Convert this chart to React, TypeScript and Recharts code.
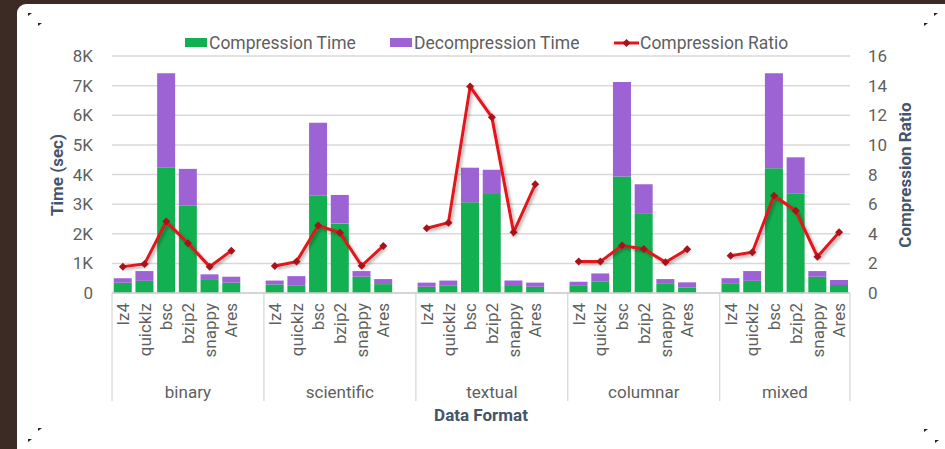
import React from 'react'
import { ComposedChart, Bar, Line, XAxis, YAxis, CartesianGrid, Legend } from 'recharts'

// values
const groups = ['binary', 'scientific', 'textual', 'columnar', 'mixed']
const algorithms = ['lz4', 'quicklz', 'bsc', 'bzip2', 'snappy', 'Ares']

// seconds, one row per data format
const compressionTime = [
  [350, 410, 4230, 2950, 440, 350],
  [290, 260, 3280, 2350, 550, 300],
  [210, 260, 3060, 3340, 240, 210],
  [240, 380, 3930, 2670, 330, 180],
  [330, 410, 4210, 3370, 550, 270],
]
const decompressionTime = [
  [150, 330, 3190, 1240, 190, 200],
  [130, 310, 2470, 960, 190, 170],
  [140, 160, 1170, 820, 180, 140],
  [140, 280, 3190, 1000, 140, 180],
  [170, 330, 3210, 1210, 190, 170],
]
const compressionRatio = [
  [1.78, 1.96, 4.82, 3.36, 1.78, 2.86],
  [1.82, 2.12, 4.55, 4.07, 1.84, 3.18],
  [4.37, 4.75, 13.94, 11.87, 4.1, 7.34],
  [2.12, 2.12, 3.2, 2.97, 2.07, 2.95],
  [2.52, 2.75, 6.57, 5.56, 2.45, 4.1],
]
const timeTicks = [0, 1000, 2000, 3000, 4000, 5000, 6000, 7000, 8000]
const ratioTicks = [0, 2, 4, 6, 8, 10, 12, 14, 16]

// an empty slot closes each group (except the last), like the original sheet
const data: any[] = []
groups.forEach((g, gi) => {
  algorithms.forEach((a, ai) => {
    data.push({
      key: `${g}|${a}`,
      group: g,
      algo: a,
      slot: ai,
      comp: compressionTime[gi][ai],
      decomp: decompressionTime[gi][ai],
      ratio: compressionRatio[gi][ai],
    })
  })
  if (gi < groups.length - 1) {
    data.push({ key: `${g}|gap`, group: g, algo: '', slot: 6, comp: null, decomp: null, ratio: null })
  }
})

const W = 945
const H = 449
const PLOT_LEFT = 112
const PLOT_RIGHT = 850
const BAND = (PLOT_RIGHT - PLOT_LEFT) / data.length

const FONT = 'Roboto, "Liberation Sans", Arial, sans-serif'
const GRAY = '#5f5f5f'
const TITLE = '#44546a'
const GREEN = '#12b050'
const PURPLE = '#9d62d4'
const RED = '#e3141b'
const DARKRED = '#a8131a'
const LINE_GRAY = '#cccccc'

function CategoryTick(props: any) {
  const { x, y, payload } = props
  const item = data.find((d) => d.key === payload.value)
  if (!item) return null
  const gi = groups.indexOf(item.group)
  const slots = gi < groups.length - 1 ? 7 : 6
  const left = x - BAND / 2
  const isLast = payload.value === data[data.length - 1].key
  return (
    <g>
      {item.algo && (
        <text
          x={x}
          y={y + 10}
          transform={`rotate(-90 ${x} ${y + 10})`}
          textAnchor="end"
          dy="0.36em"
          fill={GRAY}
          fontSize={17}
          fontFamily={FONT}
        >
          {item.algo}
        </text>
      )}
      {item.slot === 0 && (
        <>
          <line x1={left} y1={y} x2={left} y2={y + 108} stroke={LINE_GRAY} strokeWidth={1} />
          <text x={left + (slots * BAND) / 2} y={y + 105} textAnchor="middle" fill={GRAY} fontSize={17} fontFamily={FONT}>
            {item.group}
          </text>
        </>
      )}
      {isLast && <line x1={x + BAND / 2} y1={y} x2={x + BAND / 2} y2={y + 108} stroke={LINE_GRAY} strokeWidth={1} />}
    </g>
  )
}

function Diamond(props: any) {
  const { cx, cy, index } = props
  if (cx == null || cy == null) return <g key={index} />
  return <path key={index} d={`M${cx},${cy - 4}L${cx + 4},${cy}L${cx},${cy + 4}L${cx - 4},${cy}Z`} fill={DARKRED} />
}

function LegendBox() {
  const text = { fontSize: 17.5, color: GRAY, fontFamily: FONT, lineHeight: '25px', whiteSpace: 'nowrap' as const }
  return (
    <div style={{ position: 'relative', width: W, height: 25 }}>
      <div style={{ position: 'absolute', left: 185, top: 7, width: 22, height: 9, background: GREEN }} />
      <div style={{ ...text, position: 'absolute', left: 209, top: 0 }}>Compression Time</div>
      <div style={{ position: 'absolute', left: 390, top: 7, width: 22, height: 9, background: PURPLE }} />
      <div style={{ ...text, position: 'absolute', left: 414, top: 0 }}>Decompression Time</div>
      <svg style={{ position: 'absolute', left: 614, top: 4 }} width={25} height={16}>
        <line x1={0} y1={8} x2={25} y2={8} stroke={RED} strokeWidth={3} />
        <path d="M12.5,4L16.5,8L12.5,12L8.5,8Z" fill={DARKRED} />
      </svg>
      <div style={{ ...text, position: 'absolute', left: 640, top: 0 }}>Compression Ratio</div>
    </div>
  )
}

const marks = [
  [28, 13], [38, 23], [924, 23], [934, 13], [38, 428], [28, 439], [924, 429], [935, 440],
]

export default function App() {
  return (
    <div style={{ position: 'absolute', left: 0, top: 0, width: W, height: H, background: '#3b2b24', overflow: 'hidden' }}>
      <div style={{ position: 'absolute', left: 17, top: 4, width: W, height: H + 20, background: '#fff', borderRadius: 9 }} />
      <div style={{ position: 'absolute', left: 0, top: 0 }}>
        <ComposedChart
          width={W}
          height={H}
          data={data}
          margin={{ top: 31, right: 0, bottom: 0, left: 0 }}
          barCategoryGap="8%"
        >
          <defs>
            <filter id="ratioShadow" x="-10%" y="-10%" width="130%" height="130%">
              <feDropShadow dx="2" dy="2" stdDeviation="1.5" floodColor="#000" floodOpacity="0.3" />
            </filter>
          </defs>
          <CartesianGrid yAxisId="left" vertical={false} stroke="#d9d9d9" strokeWidth={1.5} />
          <XAxis
            dataKey="key"
            interval={0}
            height={H - 293}
            tickSize={0}
            tickMargin={0}
            tickLine={false}
            axisLine={{ stroke: '#d0d0d0', strokeWidth: 1.5 }}
            tick={<CategoryTick />}
            label={{
              content: () => (
                <text x={481} y={421} textAnchor="middle" fill={TITLE} fontSize={17} fontWeight="bold" fontFamily={FONT}>
                  Data Format
                </text>
              ),
            }}
          />
          <YAxis
            yAxisId="left"
            width={PLOT_LEFT}
            domain={[0, 8000]}
            ticks={timeTicks}
            tickFormatter={(v: number) => (v === 0 ? '0' : `${v / 1000}K`)}
            axisLine={false}
            tickLine={false}
            tickSize={0}
            tickMargin={19}
            tick={{ fill: GRAY, fontSize: 17, fontFamily: FONT }}
            label={{
              content: () => (
                <text
                  x={57}
                  y={175}
                  transform="rotate(-90 57 175)"
                  textAnchor="middle"
                  dominantBaseline="central"
                  fill={TITLE}
                  fontSize={17}
                  fontWeight="bold"
                  fontFamily={FONT}
                >
                  Time (sec)
                </text>
              ),
            }}
          />
          <YAxis
            yAxisId="right"
            orientation="right"
            width={W - PLOT_RIGHT}
            domain={[0, 16]}
            ticks={ratioTicks}
            axisLine={false}
            tickLine={false}
            tickSize={0}
            tickMargin={18}
            tick={{ fill: GRAY, fontSize: 17, fontFamily: FONT }}
            label={{
              content: () => (
                <text
                  x={905}
                  y={175}
                  transform="rotate(-90 905 175)"
                  textAnchor="middle"
                  dominantBaseline="central"
                  fill={TITLE}
                  fontSize={17}
                  fontWeight="bold"
                  fontFamily={FONT}
                >
                  Compression Ratio
                </text>
              ),
            }}
          />
          <Legend verticalAlign="top" align="left" content={() => <LegendBox />} />
          <Bar yAxisId="left" dataKey="comp" stackId="t" fill={GREEN} name="Compression Time" isAnimationActive={false} />
          <Bar yAxisId="left" dataKey="decomp" stackId="t" fill={PURPLE} name="Decompression Time" isAnimationActive={false} />
          <Line
            yAxisId="right"
            dataKey="ratio"
            name="Compression Ratio"
            stroke={RED}
            strokeWidth={3}
            type="linear"
            filter="url(#ratioShadow)"
            dot={<Diamond />}
            activeDot={false}
            isAnimationActive={false}
          />
        </ComposedChart>
      </div>
      <svg style={{ position: 'absolute', left: 0, top: 0, pointerEvents: 'none' }} width={W} height={H}>
        {marks.map(([mx, my], i) => (
          <path key={i} d={`M${mx},${my}L${mx + 4},${my}L${mx},${my + 3}Z`} fill="#222" />
        ))}
      </svg>
    </div>
  )
}
